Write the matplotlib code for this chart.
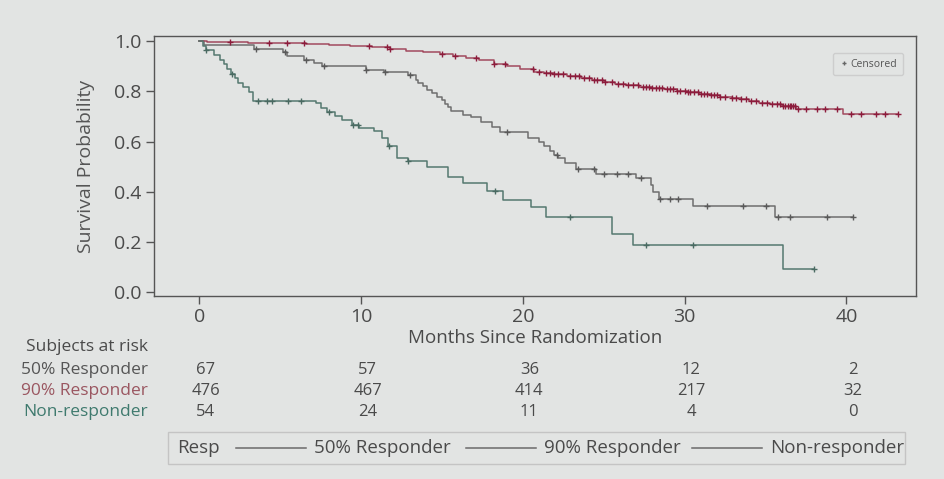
import numpy as np
import matplotlib
matplotlib.use("Agg")
import matplotlib.pyplot as plt
from matplotlib.lines import Line2D
from matplotlib.patches import Rectangle
from matplotlib import transforms

plt.rcParams["font.family"] = ["Open Sans", "DejaVu Sans"]

# ---- Kaplan-Meier steps (event time in months, survival after the step)
r50_t = [0.3, 3.4, 5.2, 5.4, 6.5, 7.1, 7.6, 10.3, 11.4, 12.9, 13.4, 13.5, 13.8, 14.1,
         14.4, 14.7, 15.0, 15.2, 15.35, 15.55, 16.3, 16.8, 17.4, 18.1, 18.6, 20.3,
         21.0, 21.3, 21.7, 21.95, 22.2, 22.6, 23.3, 24.5, 27.0, 27.9, 28.05, 28.4,
         30.5, 35.6]
r50_s = [0.985, 0.970, 0.955, 0.940, 0.925, 0.912, 0.900, 0.885, 0.876, 0.866, 0.846,
         0.834, 0.822, 0.807, 0.792, 0.778, 0.764, 0.750, 0.736, 0.723, 0.705, 0.697,
         0.679, 0.656, 0.637, 0.612, 0.600, 0.582, 0.564, 0.548, 0.533, 0.514, 0.490,
         0.469, 0.453, 0.425, 0.400, 0.373, 0.343, 0.298]
r50_end = 40.4
r50_cens = [3.5, 5.3, 6.6, 7.7, 10.3, 11.5, 13.0, 19.0, 22.1, 23.4, 24.4, 25.0, 25.8,
            26.5, 27.3, 28.5, 29.1, 29.6, 31.4, 33.6, 35.0, 35.8, 36.5, 38.8, 40.4]

r90_t = [0.5, 1.9, 3.0, 4.2, 6.6, 8.0, 9.3, 10.7, 11.8, 12.8, 13.8, 14.9, 15.7, 16.5,
         17.3, 18.2, 19.0, 19.8, 20.7, 21.3, 21.9, 22.7, 23.6, 24.3, 25.0, 25.7, 26.4,
         27.2, 28.0, 28.7, 29.5, 30.2, 30.9, 31.6, 32.2, 32.9, 33.5, 34.0, 34.6, 35.3,
         36.0, 36.9, 39.8]
r90_s = [0.998, 0.995, 0.993, 0.991, 0.988, 0.985, 0.982, 0.978, 0.968, 0.962, 0.955,
         0.947, 0.940, 0.932, 0.923, 0.907, 0.901, 0.890, 0.878, 0.873, 0.868, 0.860,
         0.852, 0.845, 0.836, 0.828, 0.823, 0.818, 0.813, 0.808, 0.803, 0.797, 0.791,
         0.785, 0.779, 0.773, 0.768, 0.762, 0.755, 0.748, 0.740, 0.731, 0.710]
r90_end = 43.2
r90_cens = [1.9, 4.3, 5.4, 6.5, 10.5, 11.6, 11.8, 15.0, 15.8, 17.1, 18.2, 18.9, 20.6,
            21.0, 21.4, 21.7, 21.9, 22.2, 22.5, 22.9, 23.2, 23.5, 23.8, 24.1, 24.4,
            24.6, 24.9, 25.1, 25.5, 25.9, 26.2, 26.5, 26.8, 27.1, 27.4, 27.6, 27.8,
            28.0, 28.2, 28.4, 28.6, 28.9, 29.1, 29.3, 29.5, 29.7, 30.0, 30.2, 30.3,
            30.6, 30.8, 31.0, 31.2, 31.4, 31.6, 31.8, 32.0, 32.2, 32.5, 32.9, 33.2,
            33.5, 33.8, 34.1, 34.4, 34.8, 35.1, 35.4, 35.7, 35.9, 36.1, 36.2, 36.4,
            36.5, 36.6, 36.7, 36.8, 37.0, 37.5, 38.2, 38.7, 39.4, 40.3, 40.9, 41.8,
            42.4, 43.2]

nr_t = [0.2, 0.4, 0.9, 1.3, 1.5, 1.7, 1.95, 2.2, 2.4, 2.7, 3.1, 3.3, 7.2, 7.5, 7.9,
        8.4, 8.85, 9.45, 9.9, 10.8, 11.3, 11.65, 12.25, 12.9, 14.1, 15.4, 16.3, 17.8,
        18.8, 20.5, 21.4, 25.5, 26.8, 36.1]
nr_s = [0.981, 0.963, 0.944, 0.926, 0.907, 0.889, 0.870, 0.852, 0.833, 0.815, 0.796,
        0.763, 0.752, 0.734, 0.716, 0.703, 0.684, 0.665, 0.653, 0.640, 0.615, 0.583,
        0.535, 0.524, 0.498, 0.460, 0.433, 0.403, 0.366, 0.338, 0.300, 0.230, 0.188,
        0.094]
nr_end = 38.0
nr_cens = [0.4, 2.0, 3.6, 4.2, 4.5, 5.5, 6.3, 8.0, 9.5, 9.8, 11.7, 12.9, 18.3, 22.9,
           27.6, 30.5, 38.0]

# ---- subjects at risk table
risk_months = [0, 10, 20, 30, 40]
risk_groups = ["50% Responder", "90% Responder", "Non-responder"]
risk_counts = [[67, 57, 36, 12, 2],
               [476, 467, 414, 217, 32],
               [54, 24, 11, 4, 0]]

BG = "#e2e4e3"
TXT = "#4a4a4a"
C50 = "#6e6e6e"
C90 = "#a24a5e"
C90M = "#8c1c3c"
CNR = "#55786f"
RISK_COLORS = ["#555555", "#9a5660", "#3f7a6e"]


def surv_at(t_ev, s_ev, t):
    s = np.concatenate([[1.0], s_ev])
    idx = np.searchsorted(t_ev, t, side="right")
    return s[idx]


def km(ax, t_ev, s_ev, t_end, cens, color, mcolor, ms=4.0):
    tt = np.concatenate([[0.0], t_ev, [t_end]])
    ss = np.concatenate([[1.0], s_ev, [s_ev[-1]]])
    ax.step(tt, ss, where="post", color=color, lw=1.1, zorder=3)
    ax.plot(cens, surv_at(np.array(t_ev), np.array(s_ev), np.array(cens)),
            ls="none", marker="+", ms=ms, mew=1.0, color=mcolor, zorder=4)


fig = plt.figure(figsize=(9.45, 4.79), dpi=100, facecolor=BG)
ax = fig.add_axes([154 / 945, 1 - 296 / 479, (916 - 154) / 945, (296 - 36) / 479])
ax.set_facecolor(BG)

km(ax, r50_t, r50_s, r50_end, r50_cens, C50, "#5a5a5a")
km(ax, r90_t, r90_s, r90_end, r90_cens, C90, C90M, ms=4.5)
km(ax, nr_t, nr_s, nr_end, nr_cens, CNR, "#4a6a62")

ax.set_xlim(-2.8, 44.3)
ax.set_ylim(-0.015, 1.02)
ax.set_xticks(risk_months)
ax.set_yticks([0.0, 0.2, 0.4, 0.6, 0.8, 1.0])
ax.set_yticklabels(["0.0", "0.2", "0.4", "0.6", "0.8", "1.0"])
ax.tick_params(colors="#555555", labelcolor=TXT, labelsize=14, length=6, width=1, pad=3)
for sp in ax.spines.values():
    sp.set_color("#555555")
    sp.set_linewidth(1.0)
ax.set_ylabel("Survival Probability", fontsize=14, color="#555555", labelpad=14)
ax.set_xlabel("Months Since Randomization", fontsize=13.5, color=TXT, labelpad=2)

leg = ax.legend(handles=[Line2D([], [], ls="none", marker="+", ms=3.5, color="#666666")],
                labels=["Censored"], loc="upper right", fontsize=7.5, frameon=True,
                handletextpad=0.2, borderpad=0.55, handlelength=1.0,
                bbox_to_anchor=(0.99, 0.955))
leg.get_frame().set_facecolor(BG)
leg.get_frame().set_edgecolor("#c8c8c8")
for t in leg.get_texts():
    t.set_color("#555555")

# ---- at-risk table under the axes
tr = transforms.blended_transform_factory(ax.transData, fig.transFigure)
fig.text(148 / 945, 1 - 347 / 479, "Subjects at risk", ha="right", va="center",
         fontsize=12.5, color=TXT)
row_y = [370, 391, 412]
for name, counts, col, y in zip(risk_groups, risk_counts, RISK_COLORS, row_y):
    fig.text(148 / 945, 1 - y / 479, name, ha="right", va="center", fontsize=12.5,
             color=col)
    for m, c in zip(risk_months, counts):
        ax.text(m + 0.4, 1 - y / 479, str(c), transform=tr, ha="center", va="center",
                fontsize=12, color=TXT)

# ---- bottom legend strip
fig.patches.append(Rectangle((168 / 945, 1 - 464 / 479), (905 - 168) / 945, 32 / 479,
                             transform=fig.transFigure, fill=False,
                             edgecolor="#c4c4c4", lw=1))
ly = 1 - 448 / 479
fig.text(177 / 945, ly, "Resp", ha="left", va="center", fontsize=13.5, color=TXT)
for x0, x1, lab in [(236, 306, "50% Responder"), (466, 536, "90% Responder"),
                    (692, 762, "Non-responder")]:
    fig.lines.append(Line2D([x0 / 945, x1 / 945], [ly, ly], transform=fig.transFigure,
                            color="#6a6a6a", lw=1.1))
    fig.text((x1 + 8) / 945, ly, lab, ha="left", va="center", fontsize=13.5, color=TXT)

fig.savefig("out.png", dpi=100, facecolor=BG)
